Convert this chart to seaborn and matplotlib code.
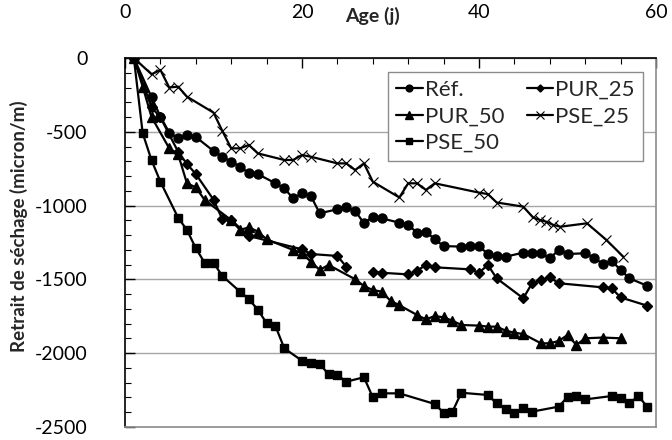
import numpy as np
import pandas as pd
import matplotlib
matplotlib.use("Agg")
import matplotlib.pyplot as plt
import seaborn as sns
from matplotlib.ticker import MultipleLocator

#Data--------------------------------------------------------------------------------------
ref_age = [1, 3, 4, 5, 6, 7, 8, 10, 11, 12, 13, 14, 15, 17, 18, 19, 20, 21, 22, 24, 25, 26, 27, 28, 29,
           31, 32, 33, 34, 35, 36, 38, 39, 40, 41, 42, 43, 45, 46, 47, 48, 49, 50, 52, 53, 54, 55, 56, 57, 59]
ref_val = [0, -266, -397, -505, -544, -525, -535, -630, -669, -702, -736, -781, -786, -849, -883, -951, -917,
           -935, -1052, -1025, -1012, -1035, -1120, -1075, -1086, -1116, -1131, -1183, -1176, -1228, -1274,
           -1278, -1274, -1274, -1328, -1341, -1346, -1319, -1319, -1323, -1357, -1301, -1328, -1323, -1353,
           -1396, -1375, -1436, -1493, -1543]

pur25_age = [1, 3, 4, 6, 7, 8, 10, 11, 12, 14, 20, 21, 24, 25, 26, 28, 29, 32, 33, 34, 35, 39, 40, 41, 42,
             45, 46, 47, 48, 49, 54, 55, 56, 59]
pur25_val = [0, -334, -402, -635, -718, -786, -960, -1093, -1098, -1206, -1296, -1328, -1341, -1414, np.nan,
             -1448, -1455, -1466, -1441, -1402, -1418, -1432, -1455, -1402, -1493, -1628, -1526, -1504, -1486,
             -1526, -1554, -1561, -1622, -1678]

pur50_age = [1, 2, 3, 5, 6, 7, 8, 9, 12, 13, 14, 15, 16, 19, 20, 21, 22, 23, 26, 27, 28, 29, 30, 31, 33, 34,
             35, 36, 37, 38, 40, 41, 42, 43, 44, 45, 47, 48, 49, 50, 51, 52, 54, 56]
pur50_val = [0, -194, -400, -612, -652, -849, -876, -962, -1098, -1165, -1147, -1176, -1228, -1301, -1323,
             -1380, -1436, -1402, -1499, -1545, -1572, -1583, -1645, -1675, -1741, -1771, -1748, -1757, -1780,
             -1809, -1813, -1820, -1820, -1847, -1861, -1870, -1933, -1933, -1917, -1877, -1944, -1899, -1894,
             -1899]

pse25_age = [1, 3, 4, 5, 6, 7, 10, 11, 12, 13, 14, 15, 18, 19, 20, 21, 24, 25, 26, 27, 28, 31, 32, 33, 34,
             35, 40, 41, 42, 45, 46.1, 46.9, 47.6, 48.4, 49.2, 52.2, 54.4, 56.3]
pse25_val = [0, -110, -81, -200, -194, -262, -370, -494, -612, -612, -589, -646, -691, -691, -657, -669,
             -714, -714, -759, -714, -838, -945, -849, -849, -894, -849, -912, -922, -979, -1007, -1080, -1098,
             -1109, -1131, -1143, -1120, -1233, -1346]

pse50_age = [1, 2, 3, 4, 6, 7, 8, 9, 10, 11, 13, 14, 15, 16, 17, 18, 20, 21, 22, 23, 24, 25, 27, 28, 29, 31,
             35, 36, 37, 38, 41, 42, 43, 44, 45, 46, 49, 50, 51, 52, 55, 56, 57, 58, 59]
pse50_val = [0, -510, -693, -838, -1082, -1165, -1289, -1387, -1387, -1477, -1583, -1635, -1704, -1797, -1816,
             -1967, -2051, -2069, -2073, -2143, -2148, -2193, -2163, -2299, -2272, -2272, -2344, -2403, -2396,
             -2268, -2283, -2340, -2380, -2407, -2374, -2396, -2362, -2297, -2290, -2313, -2290, -2306, -2340,
             -2290, -2362]

series = [
    ("Réf.", ref_age, ref_val, "o", 6.5, 1.0),
    ("PUR_25", pur25_age, pur25_val, "D", 4.8, 1.0),
    ("PUR_50", pur50_age, pur50_val, "^", 7.5, 1.0),
    ("PSE_25", pse25_age, pse25_val, "x", 7.0, 0.8),
    ("PSE_50", pse50_age, pse50_val, "s", 6.3, 1.0),
]

#Plot---------------------------------------------------------------------------------------
sns.set_style("white")
plt.rcParams['font.family'] = ['Lato', 'DejaVu Sans']
FS = 14

fig = plt.figure(figsize=(6.72, 4.4), dpi=100)
ax = fig.add_axes([125/672, 1-427/440, 531/672, 369/440])

for name, age, val, mk, ms, mew in series:
    df = pd.DataFrame({"age": age, "val": val})
    # split on missing values so the line shows a gap
    grp = df["val"].isna().cumsum()
    first = True
    for _, part in df.dropna().groupby(grp[df["val"].notna()]):
        sns.lineplot(data=part, x="age", y="val", ax=ax, color="black", linewidth=1.6,
                     marker=mk, markersize=ms, markeredgecolor="black", markerfacecolor="black",
                     markeredgewidth=mew, estimator=None, sort=False,
                     label=name if first else None, legend=False)
        first = False

ax.set_xlim(0, 60)
ax.set_ylim(-2500, 0)
ax.xaxis.tick_top()
ax.xaxis.set_major_locator(MultipleLocator(20))
ax.xaxis.set_minor_locator(MultipleLocator(4))
ax.yaxis.set_major_locator(MultipleLocator(500))
ax.yaxis.set_minor_locator(MultipleLocator(100))
ax.tick_params(which="major", direction="in", length=7, width=1, colors="black", labelsize=FS, pad=27)
ax.tick_params(which="minor", direction="in", length=4, width=0.8, colors="black")
ax.tick_params(axis="x", which="both", top=True, bottom=False)
ax.tick_params(axis="y", which="both", left=True, right=False)
ax.set_yticks([0, -500, -1000, -1500, -2000, -2500])
ax.set_yticklabels(["0", "-500", "-1000", "-1500", "-2000", "-2500"])
ax.grid(axis="y", which="major", color="#a6a6a6", linewidth=1)
ax.set_xlabel("")
ax.set_ylabel("")

for side in ["top", "left"]:
    ax.spines[side].set_color("black")
    ax.spines[side].set_linewidth(1.2)
for side in ["bottom", "right"]:
    ax.spines[side].set_color("#8c8c8c")
    ax.spines[side].set_linewidth(1.2)

fig.text(372/672, 1-16/440, "Age (j)", ha="center", va="center", fontsize=FS, fontweight="bold")
fig.text(19/672, 1-226/440, "Retrait de séchage (micron/m)", ha="center", va="center",
         rotation=90, fontsize=13.5, fontweight="bold")

# row-wise legend order like the reference (matplotlib fills columns first)
handles, labels = ax.get_legend_handles_labels()
order = ["Réf.", "PUR_50", "PSE_50", "PUR_25", "PSE_25"]
hmap = dict(zip(labels, handles))
leg = ax.legend([hmap[k] for k in order], order, ncol=2, loc="upper right",
                bbox_to_anchor=(0.975, 0.962), fontsize=16,
                frameon=True, fancybox=False, framealpha=1, edgecolor="#8c8c8c",
                handlelength=1.2, handletextpad=0.1, columnspacing=1.0, borderpad=0.35,
                labelspacing=0.3, markerscale=0.75, borderaxespad=0)
leg.get_frame().set_linewidth(1)

fig.savefig("out.png", dpi=100)
